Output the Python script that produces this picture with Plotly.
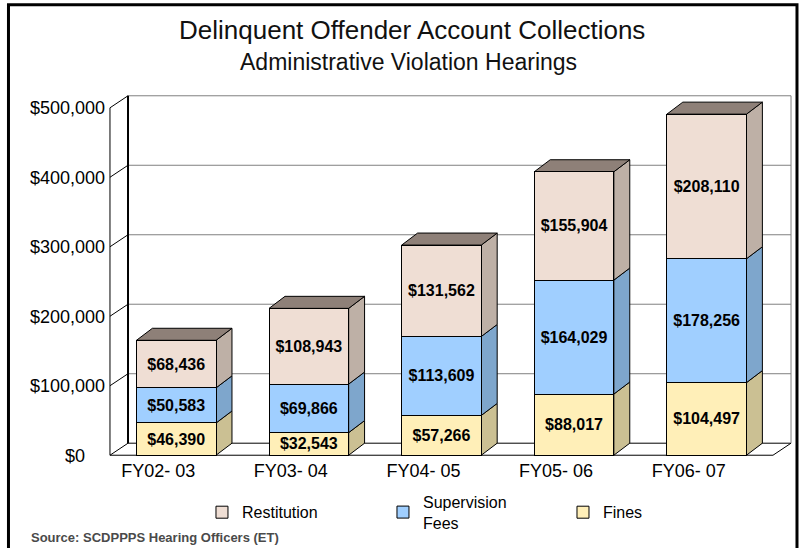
import plotly.graph_objects as go

# ---------------- data ----------------
categories = ["FY02- 03", "FY03- 04", "FY04- 05", "FY05- 06", "FY06- 07"]
fines = [46390, 32543, 57266, 88017, 104497]
supervision = [50583, 69866, 113609, 164029, 178256]
restitution = [68436, 108943, 131562, 155904, 208110]
y_tick_values = [0, 100000, 200000, 300000, 400000, 500000]

# ---------------- styling / geometry ----------------
W, H = 804, 548
FONT = "Liberation Sans, Arial, sans-serif"
BAR_W = 0.6          # bar width in category units
DXB = 0.12           # bar depth (x, category units)
DXW = 0.136          # wall depth (x, category units)
DY = 17300           # depth (y, data units)
PX_X = 132.6         # px per category
PX_Y = 347 / 500000  # px per dollar
AX_LEFT_PX = 110     # pixel of x=-0.5
ZERO_PX = 455        # pixel of y=0
PADX, PADY = 0.03, 4000

X0, X1 = -0.5 - PADX, 4.5 + DXW + PADX
Y0, Y1 = -PADY, 500000 + DY + PADY
ml = AX_LEFT_PX - PADX * PX_X
plot_w = (X1 - X0) * PX_X
mr = W - ml - plot_w
mt = ZERO_PX - Y1 * PX_Y
plot_h = (Y1 - Y0) * PX_Y
mb = H - mt - plot_h


def pxx(px):
    return (px - ml) / plot_w


def pxy(py):
    return (H - mb - py) / plot_h


series = [
    ("Fines", fines, "#FFEFB8", "#CBC093", "legend3", 563),
    ("Supervision<br>Fees", supervision, "#A0CFFF", "#7EA6CC", "legend2", 383),
    ("Restitution", restitution, "#EFDED4", "#BEB0A6", "legend", 202),
]
TOP_COLOR = "#8E8078"

fig = go.Figure()
shapes = []


def line(x0, y0, x1, y1, color="black", width=1):
    shapes.append(dict(type="line", xref="x", yref="y", x0=x0, y0=y0, x1=x1, y1=y1,
                       line=dict(color=color, width=width), layer="below"))


def poly(pts, fill):
    path = "M " + " L ".join(f"{x},{y}" for x, y in pts) + " Z"
    shapes.append(dict(type="path", xref="x", yref="y", path=path, fillcolor=fill,
                       line=dict(color="black", width=1), layer="below"))


# walls
xl, xr = -0.5, 4.5
for v in y_tick_values[1:]:
    line(xl + DXW, v + DY, xr + DXW, v + DY, color="#808080", width=1)
line(xl + DXW, DY, xr + DXW, DY, color="black", width=1)          # back floor edge
line(xr + DXW, DY, xr + DXW, y_tick_values[-1] + DY, color="#808080")  # right back edge
line(xl + DXW, DY, xl + DXW, y_tick_values[-1] + DY, color="black", width=2)  # back-left edge
line(xl, 0, xl, y_tick_values[-1], color="black", width=1)         # front axis
for v in y_tick_values:
    line(xl, v, xl + DXW, v + DY, color="black", width=1)
line(xl, 0, xr, 0, color="black", width=1)                         # front floor edge
line(xr, 0, xr + DXW, DY, color="black", width=1)

# bar side & top faces, computed from the stacked values
xs = list(range(len(categories)))
for i in xs:
    base = 0
    xa, xb = i - BAR_W / 2, i + BAR_W / 2
    for name, vals, front, side, lg, lx in series:
        top = base + vals[i]
        poly([(xb, base), (xb + DXB, base + DY), (xb + DXB, top + DY), (xb, top)], side)
        base = top
    poly([(xa, base), (xa + DXB, base + DY), (xb + DXB, base + DY), (xb, base)], TOP_COLOR)

# front faces
legends = {}
for name, vals, front, side, lg, lx in series:
    fig.add_trace(go.Bar(
        x=xs, y=vals, name=name, width=BAR_W, legend=lg,
        marker=dict(color=front, line=dict(color="black", width=1)),
        texttemplate="$%{y:,.0f}", textposition="inside", insidetextanchor="middle",
        textangle=0, constraintext="none",
        textfont=dict(family=FONT, size=16, color="black", weight="bold"),
        hoverinfo="skip",
    ))
    legends[lg] = dict(orientation="h", x=pxx(lx), xanchor="left", y=pxy(512), yanchor="middle",
                       font=dict(family=FONT, size=16, color="black"),
                       bgcolor="rgba(0,0,0,0)")

# outer frame
shapes.append(dict(type="rect", xref="paper", yref="paper",
                   x0=pxx(8.5), x1=pxx(797), y0=pxy(570), y1=pxy(5),
                   line=dict(color="black", width=3), fillcolor="rgba(0,0,0,0)", layer="above"))

annotations = [
    dict(text="Delinquent Offender Account Collections", x=pxx(412), y=pxy(30),
         xref="paper", yref="paper", showarrow=False, xanchor="center", yanchor="middle",
         font=dict(family=FONT, size=26, color="#111")),
    dict(text="Administrative Violation Hearings", x=pxx(409), y=pxy(62),
         xref="paper", yref="paper", showarrow=False, xanchor="center", yanchor="middle",
         font=dict(family=FONT, size=23, color="#111")),
    dict(text="Source: SCDPPPS Hearing Officers (ET)", x=pxx(29), y=pxy(537),
         xref="paper", yref="paper", showarrow=False, xanchor="left", yanchor="middle",
         font=dict(family=FONT, size=13, color="#4a4a4a", weight="bold")),
]

y_tick_text = [f"${v:,}" + ("\u00a0" * 4 if v == 0 else "") for v in y_tick_values]

fig.update_layout(
    width=W, height=H,
    margin=dict(l=ml, r=mr, t=mt, b=mb, autoexpand=False),
    paper_bgcolor="white", plot_bgcolor="white",
    barmode="stack", bargap=0.4,
    shapes=shapes, annotations=annotations,
    font=dict(family=FONT, color="black"),
    showlegend=True,
    xaxis=dict(range=[X0, X1], showgrid=False, zeroline=False, showline=False,
               tickvals=[i - DXW for i in xs], ticktext=categories, ticks="",
               tickfont=dict(family=FONT, size=18, color="black"), automargin=False,
               fixedrange=True),
    yaxis=dict(range=[Y0, Y1], showgrid=False, zeroline=False, showline=False,
               tickvals=y_tick_values, ticktext=y_tick_text,
               ticks="", tickfont=dict(family=FONT, size=18, color="black"),
               automargin=False, fixedrange=True),
    **legends,
)

fig.write_html("out.html", config={"displayModeBar": False},
               post_script="document.body.style.margin='0';document.body.style.overflow='hidden';")
